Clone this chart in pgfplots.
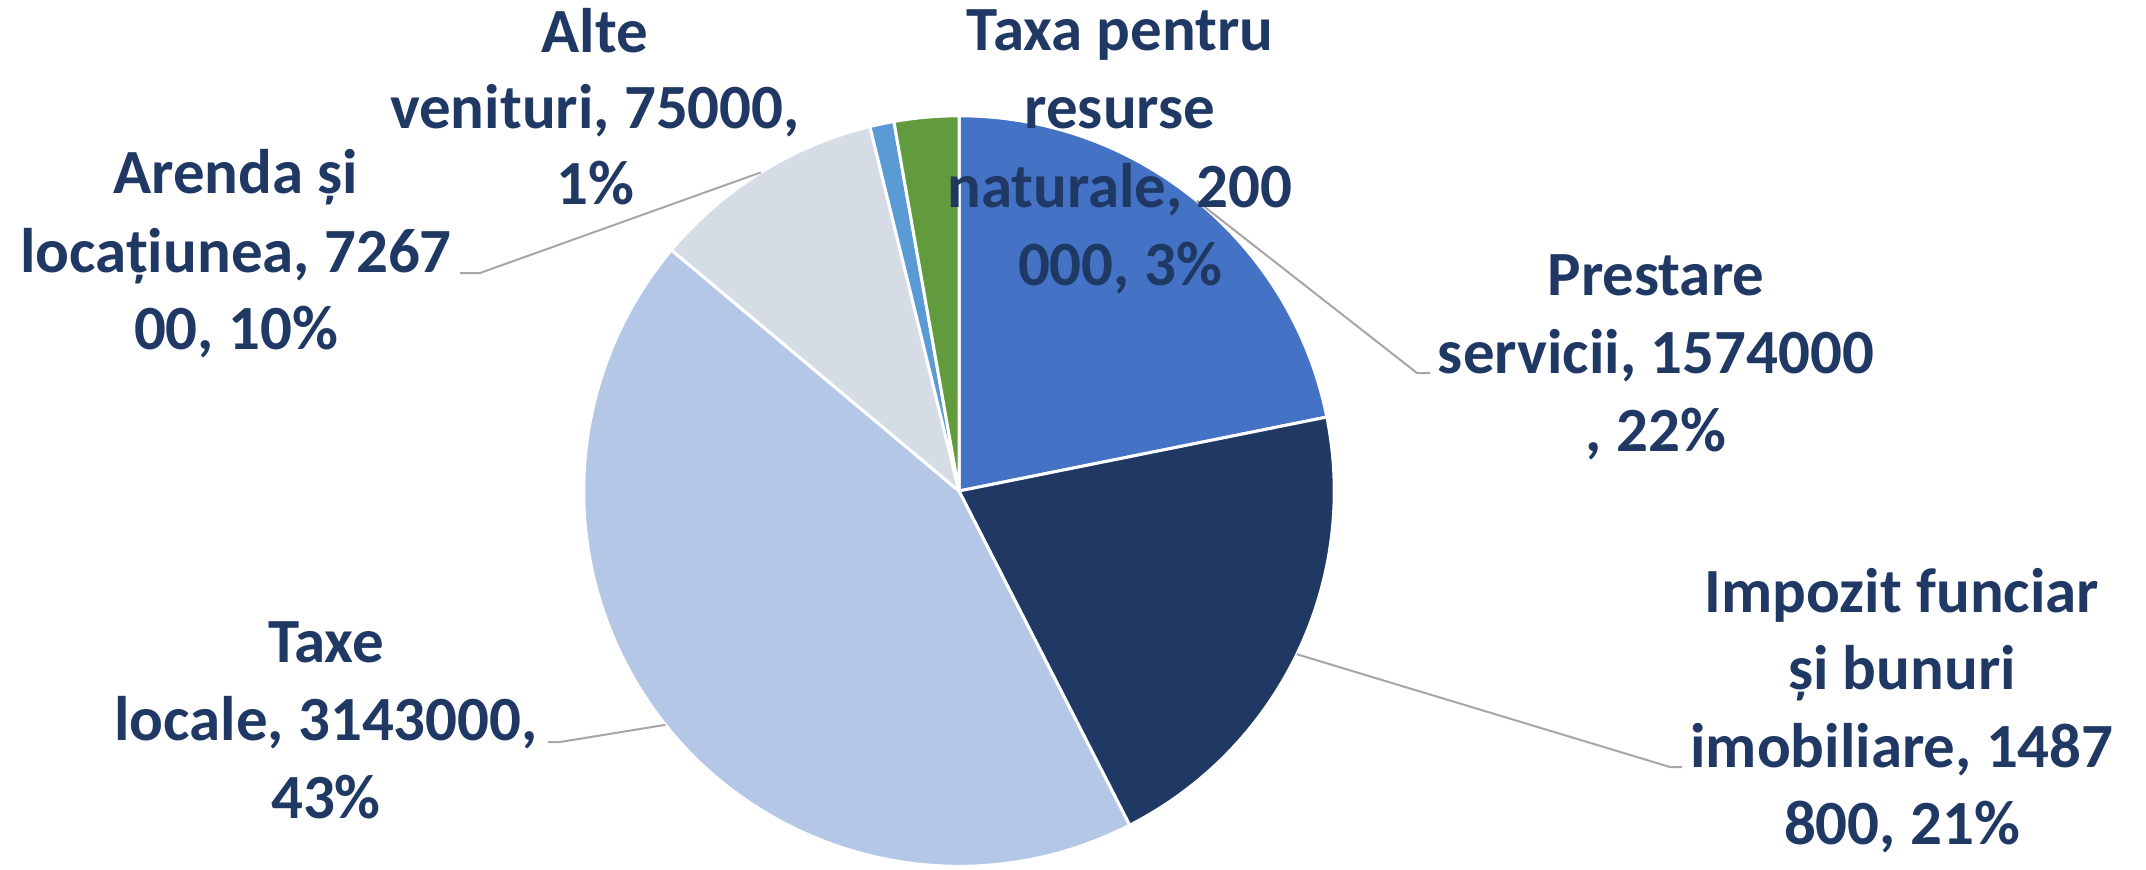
\documentclass[border=0pt]{standalone}
\usepackage{pgfplots}
\pgfplotsset{compat=1.18}
\usepackage{pgfplotstable}
\usepackage{fontspec}
\setmainfont{Carlito}
\definecolor{cA}{HTML}{4472C4}
\definecolor{cB}{HTML}{203864}
\definecolor{cC}{HTML}{B4C7E7}
\definecolor{cD}{HTML}{D6DCE5}
\definecolor{cE}{HTML}{5B9BD5}
\definecolor{cF}{HTML}{629B3D}
\definecolor{txt}{HTML}{203864}
\definecolor{lead}{HTML}{A6A6A6}

% slices clockwise from 12 o'clock
\pgfplotstableread{
value color
1574000 cA
1487800 cB
3143000 cC
726700 cD
75000 cE
200000 cF
}\piedata

\begin{document}
\begin{tikzpicture}[lbl/.style={anchor=base, inner sep=0pt, text=txt, font=\fontsize{17.9}{22}\selectfont\bfseries}]
\begin{axis}[x=0.01cm, y=0.01cm, xmin=0, xmax=2146, ymin=0, ymax=869,
  y dir=reverse, hide axis, clip=false]
\pgfplotsextra{%
  \coordinate (bl) at (axis cs:0,869);
  \coordinate (tr) at (axis cs:2146,0);
  \gdef\total{0}%
  \pgfplotstableforeachcolumnelement{value}\of\piedata\as\v{\xdef\total{\fpeval{\total+\v}}}%
  \gdef\startang{90}%
  \pgfplotstableforeachcolumnelement{value}\of\piedata\as\v{%
    \pgfplotstablegetelem{\pgfplotstablerow}{color}\of\piedata
    \edef\col{\pgfplotsretval}%
    \xdef\endang{\fpeval{\startang-360*\v/\total}}%
    \expandafter\xdef\csname mid\pgfplotstablerow\endcsname{\fpeval{(\startang+\endang)/2}}%
    \fill[\col, draw=white, line width=0.03cm, line join=round] (axis cs:959,491) -- ++(\startang:3.75cm) arc[start angle=\startang, end angle=\endang, radius=3.75cm] -- cycle;
    \global\let\startang\endang
  }%
  \draw[lead, line width=0.02cm] (axis cs:959,491) ++(\csname mid0\endcsname:3.75cm) -- (axis cs:1417,373) -- (axis cs:1430,373);
  \draw[lead, line width=0.02cm] (axis cs:959,491) ++(\csname mid1\endcsname:3.75cm) -- (axis cs:1670,767) -- (axis cs:1682,767);
  \draw[lead, line width=0.02cm] (axis cs:959,491) ++(\csname mid2\endcsname:3.75cm) -- (axis cs:560,742) -- (axis cs:548,742);
  \draw[lead, line width=0.02cm] (axis cs:959,491) ++(\csname mid3\endcsname:3.75cm) -- (axis cs:480,273) -- (axis cs:460,273);
}
% Prestare servicii
\node[lbl] at (axis cs:1656,295) {Prestare};
\node[lbl] at (axis cs:1656,373) {servicii, 1574000};
\node[lbl] at (axis cs:1656,451) {, 22\%};
% Impozit funciar
\node[lbl] at (axis cs:1902,612) {Impozit funciar};
\node[lbl] at (axis cs:1902,689) {și bunuri};
\node[lbl] at (axis cs:1902,767) {imobiliare, 1487};
\node[lbl] at (axis cs:1902,844) {800, 21\%};
% Taxe locale
\node[lbl] at (axis cs:326,662) {Taxe};
\node[lbl] at (axis cs:326,740) {locale, 3143000,};
\node[lbl] at (axis cs:326,818) {43\%};
% Arenda
\node[lbl] at (axis cs:236,193) {Arenda și};
\node[lbl] at (axis cs:236,272) {locațiunea, 7267};
\node[lbl] at (axis cs:236,349) {00, 10\%};
% Alte venituri
\node[lbl] at (axis cs:595,52) {Alte};
\node[lbl] at (axis cs:595,128) {venituri, 75000,};
\node[lbl] at (axis cs:595,204) {1\%};
% Taxa pentru resurse naturale
\node[lbl] at (axis cs:1120,50) {Taxa pentru};
\node[lbl] at (axis cs:1120,128) {resurse};
\node[lbl] at (axis cs:1120,207) {naturale, 200};
\node[lbl] at (axis cs:1120,285) {000, 3\%};
\end{axis}
\pgfresetboundingbox
\path (bl) rectangle (tr);
\end{tikzpicture}
\end{document}
